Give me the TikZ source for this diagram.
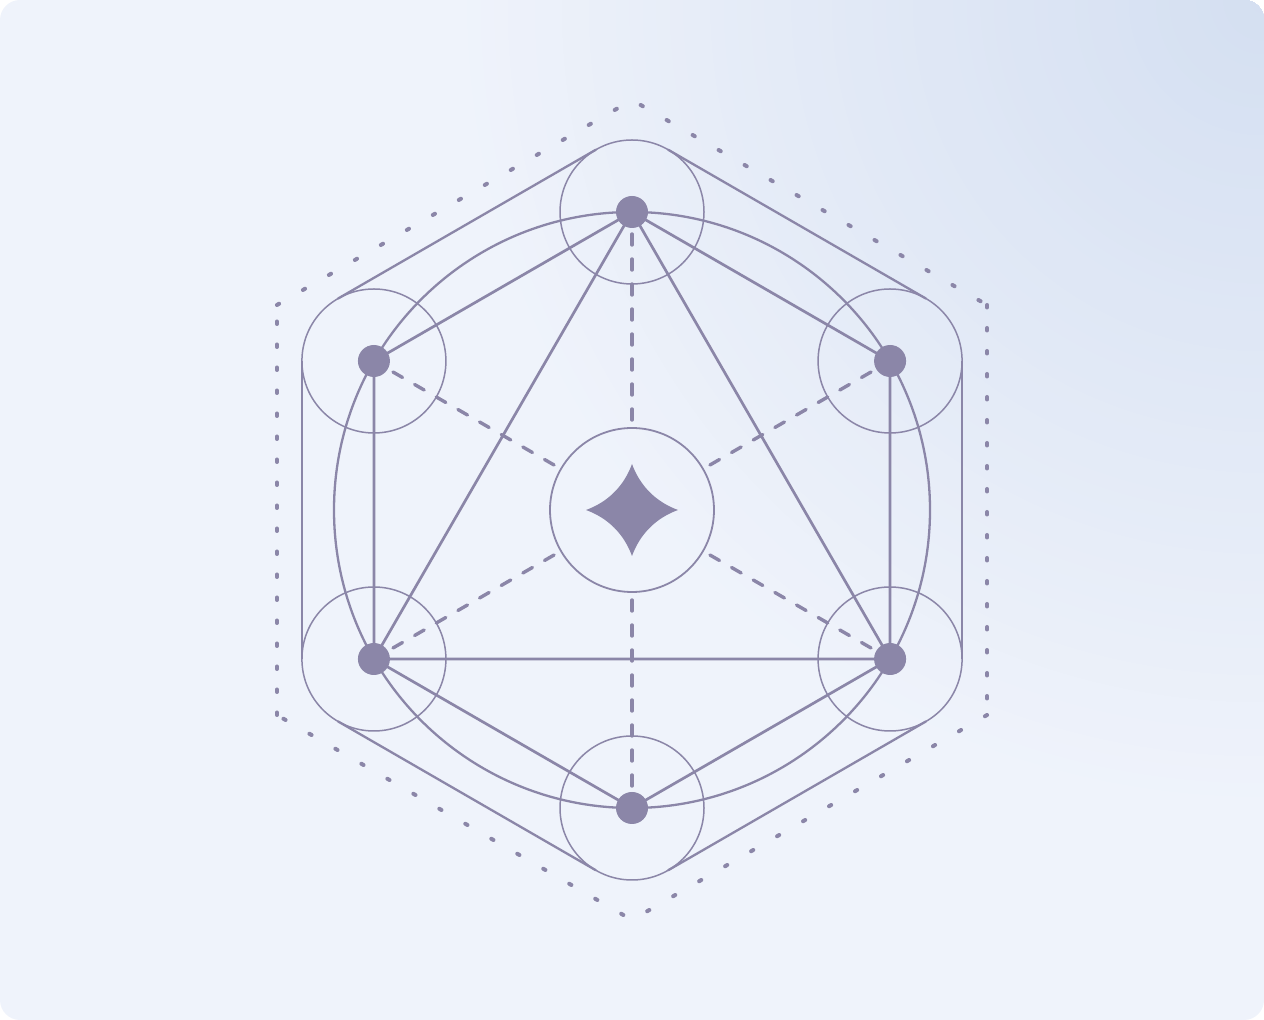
\documentclass[tikz,border=0pt]{standalone}
\usetikzlibrary{calc}
\definecolor{ink}{HTML}{8B86A8}
\definecolor{paper}{HTML}{EFF3FB}
\definecolor{glow}{HTML}{D4DFF1}
\begin{document}
\begin{tikzpicture}[x=1pt,y=1pt]
            \tikzset{
                edge/.style={ink, line width=2.7pt},
                hull/.style={ink, line width=2.3pt},
                ring/.style={ink, line width=1.5pt},
                spoke/.style={ink, line width=3.4pt, line cap=round, dash pattern=on 11pt off 14pt},
                rim/.style={ink, line width=4pt, line cap=round, dash pattern=on 2.5pt off 27.5pt},
                rimside/.style={rim, dash pattern=on 2.5pt off 20.5pt},}
            \useasboundingbox (0,0) rectangle (1264,1020);
            \begin{scope}
                \clip[rounded corners=20pt] (0,0) rectangle (1264,1020);
                \fill[paper] (0,0) rectangle (1264,1020);
                % soft glow from the top right corner
                \foreach \r in {60,...,1} {
                    \pgfmathtruncatemacro\p{100*(1-\r/60)^0.95}
                    \fill[glow!\p!paper] (1264,1020) ellipse ({\r*13.5} and {\r*13.5});
                }
            \end{scope}
            \coordinate (c) at (632,510);
            \foreach \a [count=\i] in {90,30,-30,-90,-150,150} {
                \coordinate (v\i) at ($(c)+(\a:298)$);
                \coordinate (d\i) at ($(c)+(\a:410)$);
            }
            % outer dotted hexagon
            \draw [rim] (d6) -- (d1) -- (d2);
            \draw [rim] (d3) -- (d4) -- (d5);
            \draw [rimside] (d2) -- (d3);
            \draw [rimside] (d5) -- (d6);
            % hull round the small rings
            \foreach \a [count=\i] in {90,30,-30,-90,-150,150} {
                \pgfmathtruncatemacro\j{mod(\i,6)+1}
                \draw [hull] ($(v\i)+(\a-30:72)$) -- ($(v\j)+(\a-30:72)$);
                \draw [ring] (v\i) circle (72);
            }
            \draw [hull] (c) circle (298);
            \node [circle, draw=ink, line width=1.8pt, minimum size=164pt, inner sep=0pt] (hub) at (c) {};
            \foreach \i in {1,...,6}
                \draw [spoke, shorten <=22pt] (v\i) -- (hub);
            \draw [edge] (v1) -- (v2) -- (v3) -- (v4) -- (v5) -- (v6) -- cycle;
            \draw [edge] (v1) -- (v5) -- (v3) -- cycle;
            \foreach \i in {1,...,6}
                \fill [ink] (v\i) circle (16);
            \fill [ink, shift={(c)}] (0,46) .. controls (8,24) and (24,8) .. (46,0)
                .. controls (24,-8) and (8,-24) .. (0,-46)
                .. controls (-8,-24) and (-24,-8) .. (-46,0)
                .. controls (-24,8) and (-8,24) .. cycle;
\end{tikzpicture}
\end{document}
